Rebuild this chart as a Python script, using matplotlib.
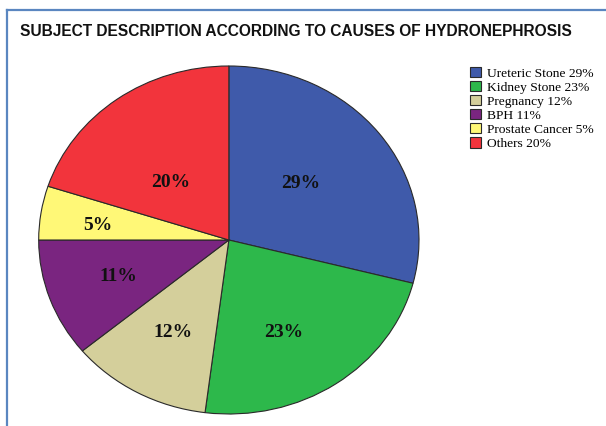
import matplotlib
matplotlib.use("Agg")
import matplotlib.pyplot as plt
from matplotlib.lines import Line2D
import numpy as np

categories = ["Ureteric Stone", "Kidney Stone", "Pregnancy", "BPH", "Prostate Cancer", "Others"]
values = [29, 23, 12, 11, 5, 20]
title = "SUBJECT DESCRIPTION ACCORDING TO CAUSES OF HYDRONEPHROSIS"

colors = ["#3F5AAA", "#2DB84B", "#D4CF9B", "#7A2580", "#FFF877", "#F2343C"]
label_r = [0.50, 0.605, 0.607, 0.62, 0.695, 0.448]
label_dang = [3, -6, 0, 0, 2, 7]

fig = plt.figure(figsize=(6.06, 4.26), dpi=100)
fig.patch.set_facecolor("white")

# frame lines
fig.add_artist(Line2D([7/606, 7/606], [0, 1 - 10/426], transform=fig.transFigure,
                      color="#5A86C0", lw=1.6))
fig.add_artist(Line2D([7/606, 1], [1 - 10/426, 1 - 10/426], transform=fig.transFigure,
                      color="#5A86C0", lw=1.6))

fig.text(20/606, 1 - 31/426, title, fontsize=11.2, fontweight="bold",
         family="Liberation Sans", ha="left", va="center", color="#111111")

ax = fig.add_axes([38.7/606, 12/426, 380.3/606, 348/426])
wedges, _ = ax.pie(values, colors=colors, startangle=90, counterclock=False,
                   wedgeprops=dict(edgecolor="#2a2a2a", linewidth=0.8))
ax.set_aspect("auto")
ax.set_xlim(-1, 1)
ax.set_ylim(-1, 1)
ax.axis("off")

for w, v, r, da in zip(wedges, values, label_r, label_dang):
    ang = np.deg2rad((w.theta1 + w.theta2) / 2 + da)
    ax.text(r * np.cos(ang), r * np.sin(ang), f"{v}%", ha="center", va="center",
            fontsize=14, fontweight="bold", family="Liberation Serif", color="#111111")

labels = [f"{c} {v}%" for c, v in zip(categories, values)]
leg = fig.legend(wedges, labels, loc="upper left", bbox_to_anchor=(470/606, 1 - 67/426),
                 frameon=False, prop={"family": "Liberation Serif", "size": 9.7},
                 handlelength=0.8, handleheight=0.8, handletextpad=0.45,
                 labelspacing=0.09, borderpad=0, borderaxespad=0)

fig.savefig("out.png", dpi=100)
